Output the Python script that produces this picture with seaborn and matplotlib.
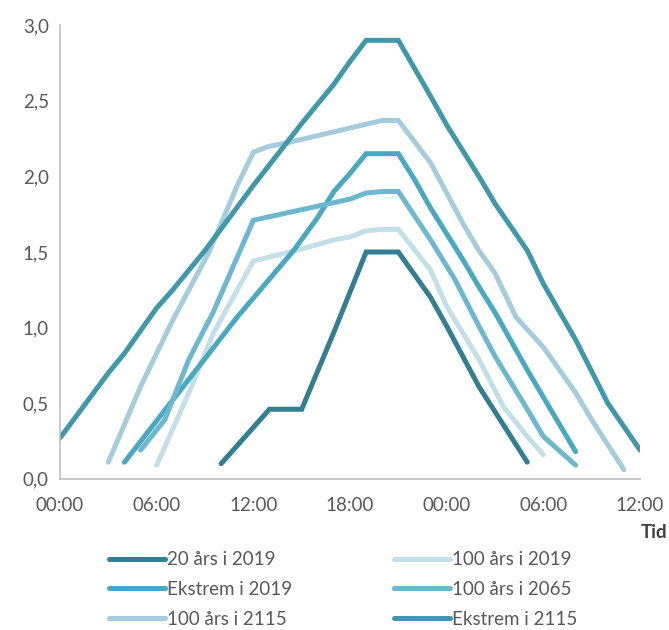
import seaborn as sns
import matplotlib.pyplot as plt
import pandas as pd

# hours after 00:00 of day one, water level values
t_20_2019 = [10, 13, 15, 17, 19, 21, 23, 24, 25, 26, 29]
v_20_2019 = [0.10, 0.46, 0.46, 0.97, 1.50, 1.50, 1.20, 1.01, 0.81, 0.61, 0.11]

t_100_2019 = [6, 8, 9.5, 12, 15, 17, 18, 19, 20, 21, 23, 24, 26, 27.5, 29, 30]
v_100_2019 = [0.09, 0.57, 0.96, 1.44, 1.52, 1.58, 1.60, 1.64, 1.65, 1.65, 1.38, 1.14, 0.79, 0.48, 0.28, 0.16]

t_ek_2019 = [4, 11, 14.5, 16, 17, 18, 19, 21, 22, 23, 25, 26, 27, 29, 30, 32]
v_ek_2019 = [0.11, 1.07, 1.51, 1.73, 1.90, 2.02, 2.15, 2.15, 1.98, 1.79, 1.45, 1.27, 1.10, 0.72, 0.54, 0.18]

t_100_2065 = [5, 6.5, 8, 9.5, 12, 18, 19, 20, 21, 23, 24.5, 26, 27, 29, 30, 32]
v_100_2065 = [0.19, 0.39, 0.79, 1.10, 1.71, 1.85, 1.89, 1.90, 1.90, 1.58, 1.32, 1.01, 0.81, 0.46, 0.28, 0.09]

t_100_2115 = [3, 5, 7, 9.3, 11, 12, 13, 14, 18, 20, 21, 23, 24, 25, 26, 27, 28.3, 30, 32, 33, 35]
v_100_2115 = [0.11, 0.61, 1.05, 1.51, 1.94, 2.16, 2.20, 2.22, 2.32, 2.37, 2.37, 2.09, 1.89, 1.69, 1.51, 1.36, 1.07, 0.87, 0.57, 0.39, 0.06]

t_ek_2115 = [0, 3, 4, 6, 7, 9, 12, 15, 17, 18, 19, 21, 23, 24, 26, 27, 29, 30, 32, 34, 36]
v_ek_2115 = [0.27, 0.70, 0.83, 1.13, 1.25, 1.51, 1.94, 2.35, 2.61, 2.76, 2.90, 2.90, 2.53, 2.34, 2.00, 1.82, 1.51, 1.29, 0.92, 0.50, 0.19]

series = {
    "20 års i 2019": (t_20_2019, v_20_2019, "#347E91"),
    "100 års i 2019": (t_100_2019, v_100_2019, "#C3DFE8"),
    "Ekstrem i 2019": (t_ek_2019, v_ek_2019, "#4AA8C1"),
    "100 års i 2065": (t_100_2065, v_100_2065, "#6DB8CF"),
    "100 års i 2115": (t_100_2115, v_100_2115, "#A4CCDC"),
    "Ekstrem i 2115": (t_ek_2115, v_ek_2115, "#4198AB"),
}

tick_hours = [0, 6, 12, 18, 24, 30, 36]
tick_labels = ["00:00", "06:00", "12:00", "18:00", "00:00", "06:00", "12:00"]

rows = []
for name, (ts, vs, _) in series.items():
    for t, v in zip(ts, vs):
        rows.append({"tid": t, "niva": v, "serie": name})
df = pd.DataFrame(rows)
palette = {k: c for k, (_, _, c) in series.items()}

sns.set_style("white")
plt.rcParams["font.family"] = ["Lato", "DejaVu Sans"]
text_col = "#595959"

fig = plt.figure(figsize=(6.69, 6.30), dpi=100)
ax = fig.add_axes([0.0897, 0.240, 0.867, 0.72])

sns.lineplot(data=df, x="tid", y="niva", hue="serie", palette=palette,
             hue_order=list(series.keys()), linewidth=3.6, ax=ax,
             solid_capstyle="round", solid_joinstyle="miter", estimator=None, sort=False)

ax.set_xlim(0, 36)
ax.set_ylim(0, 3.0)
ax.set_xticks(tick_hours)
ax.set_xticklabels(tick_labels)
ax.set_yticks([0, 0.5, 1.0, 1.5, 2.0, 2.5, 3.0])
ax.set_yticklabels([f"{v:.1f}".replace(".", ",") for v in ax.get_yticks()])
ax.tick_params(axis="both", length=0, labelsize=13.5, colors=text_col)
ax.tick_params(axis="x", pad=13)
ax.tick_params(axis="y", pad=8)
ax.set_xlabel("")
ax.set_ylabel("")
for s in ["top", "right"]:
    ax.spines[s].set_visible(False)
for s in ["left", "bottom"]:
    ax.spines[s].set_color("#BFBFBF")
    ax.spines[s].set_linewidth(1.2)

fig.text(0.998, 0.155, "Tid", ha="right", va="center", fontsize=13.5,
         fontweight="bold", color="#404040")

handles, labels = ax.get_legend_handles_labels()
ax.get_legend().remove()
order = ["20 års i 2019", "Ekstrem i 2019", "100 års i 2115",
         "100 års i 2019", "100 års i 2065", "Ekstrem i 2115"]
hmap = dict(zip(labels, handles))
leg = fig.legend([hmap[k] for k in order], order, ncol=2, loc="upper left",
                 bbox_to_anchor=(0.152, 0.137), frameon=False, fontsize=13.5,
                 handlelength=3.0, handletextpad=0.1, columnspacing=5.4,
                 labelspacing=0.68, borderaxespad=0)
for txt in leg.get_texts():
    txt.set_color(text_col)

fig.savefig("out.png", dpi=100)
